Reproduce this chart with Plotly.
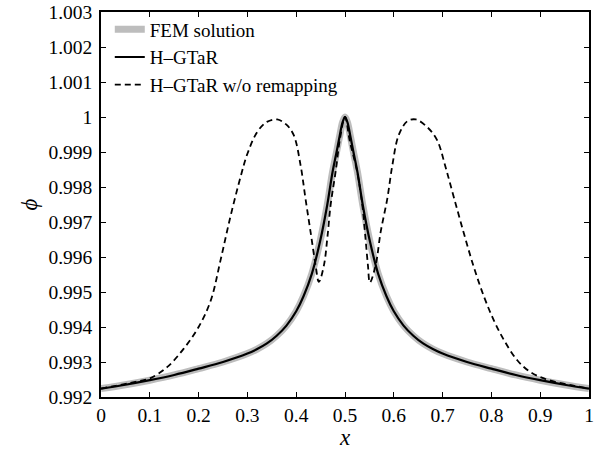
import plotly.graph_objects as go

# FEM solution / H-GTaR
x_fem = [0.0, 0.05, 0.1, 0.15, 0.2, 0.25, 0.3, 0.32, 0.34, 0.36, 0.38, 0.4, 0.415, 0.432, 0.449, 0.4635, 0.4745,
         0.482, 0.489, 0.495, 0.5,
         0.505, 0.511, 0.518, 0.5255, 0.5365, 0.551, 0.568, 0.585, 0.6, 0.62, 0.64, 0.66, 0.68, 0.7, 0.75, 0.8,
         0.85, 0.9, 0.95, 1.0]
phi_fem = [0.99224, 0.99235, 0.99248, 0.99263, 0.99281, 0.99300, 0.99324, 0.99337, 0.99353, 0.99375, 0.99404,
           0.99445, 0.99488, 0.99552, 0.99645, 0.99748, 0.99843, 0.99895, 0.99945, 0.99985, 1.0,
           0.99985, 0.99945, 0.99895, 0.99843, 0.99748, 0.99645, 0.99552, 0.99488, 0.99445, 0.99404, 0.99375,
           0.99353, 0.99337, 0.99324, 0.99300, 0.99281, 0.99263, 0.99248, 0.99235, 0.99224]
x_hgtar = list(x_fem)
phi_hgtar = list(phi_fem)

# H-GTaR w/o remapping
x_noremap = [0.0, 0.03, 0.06, 0.08, 0.1, 0.136, 0.17, 0.2, 0.225, 0.245, 0.265, 0.286, 0.3, 0.32, 0.34, 0.361, 0.38,
             0.395, 0.409, 0.419, 0.4295, 0.4398, 0.4465, 0.4568, 0.4637, 0.4705, 0.4807, 0.490, 0.5,
             0.51, 0.525, 0.5355, 0.542, 0.547, 0.551, 0.5627, 0.573, 0.5867, 0.597, 0.610, 0.6277, 0.645, 0.6686,
             0.689, 0.706, 0.723, 0.7437, 0.764, 0.785, 0.805, 0.826, 0.853, 0.880, 0.9075, 0.94, 0.97, 1.0]
phi_noremap = [0.99224, 0.99232, 0.99240, 0.99246, 0.99253, 0.99286, 0.99339, 0.99400, 0.99476, 0.99591, 0.99714,
               0.99829, 0.99895, 0.99957, 0.99986, 0.99993, 0.99978, 0.99948, 0.99862, 0.99767, 0.99671, 0.99576,
               0.99529, 0.99576, 0.99653, 0.99748, 0.99843, 0.99940, 1.0,
               0.99930, 0.99843, 0.99748, 0.99653, 0.99576, 0.99527, 0.99576, 0.99671, 0.99767, 0.99862, 0.99948,
               0.99988, 0.99993, 0.99971, 0.99933, 0.99857, 0.99771, 0.99667, 0.99571, 0.99486, 0.99419, 0.99362,
               0.99305, 0.99271, 0.99253, 0.99240, 0.99232, 0.99224]

x_ticks = [0, 0.1, 0.2, 0.3, 0.4, 0.5, 0.6, 0.7, 0.8, 0.9, 1]
x_ticktext = ["0", "0.1", "0.2", "0.3", "0.4", "0.5", "0.6", "0.7", "0.8", "0.9", "1"]
y_ticks = [0.992, 0.993, 0.994, 0.995, 0.996, 0.997, 0.998, 0.999, 1.0, 1.001, 1.002, 1.003]
y_ticktext = ["0.992", "0.993", "0.994", "0.995", "0.996", "0.997", "0.998", "0.999", "1", "1.001", "1.002", "1.003"]

FONT = "Liberation Serif"

fig = go.Figure()
fig.add_trace(go.Scatter(x=x_fem, y=phi_fem, mode="lines", name="FEM solution",
                         line=dict(color="#bdbdbd", width=7, shape="spline", smoothing=1.0)))
fig.add_trace(go.Scatter(x=x_hgtar, y=phi_hgtar, mode="lines", name="H\u2013GTaR",
                         line=dict(color="black", width=2.2, shape="spline", smoothing=1.0)))
fig.add_trace(go.Scatter(x=x_noremap, y=phi_noremap, mode="lines", name="H\u2013GTaR w/o remapping",
                         line=dict(color="black", width=1.8, dash="6px,4px", shape="spline", smoothing=1.0)))

axis_common = dict(showline=True, linecolor="black", linewidth=1.5, mirror="ticks", ticks="inside",
                   ticklen=5, tickwidth=1, tickcolor="black", showgrid=False, zeroline=False,
                   ticklabeloverflow="allow",
                   tickfont=dict(family=FONT, size=19.5, color="black"))

fig.update_layout(
    width=597, height=450,
    margin=dict(l=101, r=8, t=12, b=53, autoexpand=False),
    paper_bgcolor="white", plot_bgcolor="white",
    font=dict(family=FONT, color="black"),
    showlegend=True,
    legend=dict(x=0.018, y=1.004, xanchor="left", yanchor="top", bgcolor="rgba(0,0,0,0)",
                font=dict(family=FONT, size=19, color="black"), tracegroupgap=0),
    xaxis=dict(range=[0, 1], tickvals=x_ticks, ticktext=x_ticktext, ticklabelstandoff=0,
               title=dict(text="<i>x</i>", font=dict(family=FONT, size=23), standoff=0), **axis_common),
    yaxis=dict(range=[0.992, 1.003], tickvals=y_ticks, ticktext=y_ticktext, ticklabelstandoff=3,
               title=dict(text="<i>\u03d5</i>", font=dict(family=FONT, size=23), standoff=4), **axis_common),
)

fig.write_html("out.html", config={"displayModeBar": False},
               post_script="document.body.style.margin='0';document.body.style.overflow='hidden';")
